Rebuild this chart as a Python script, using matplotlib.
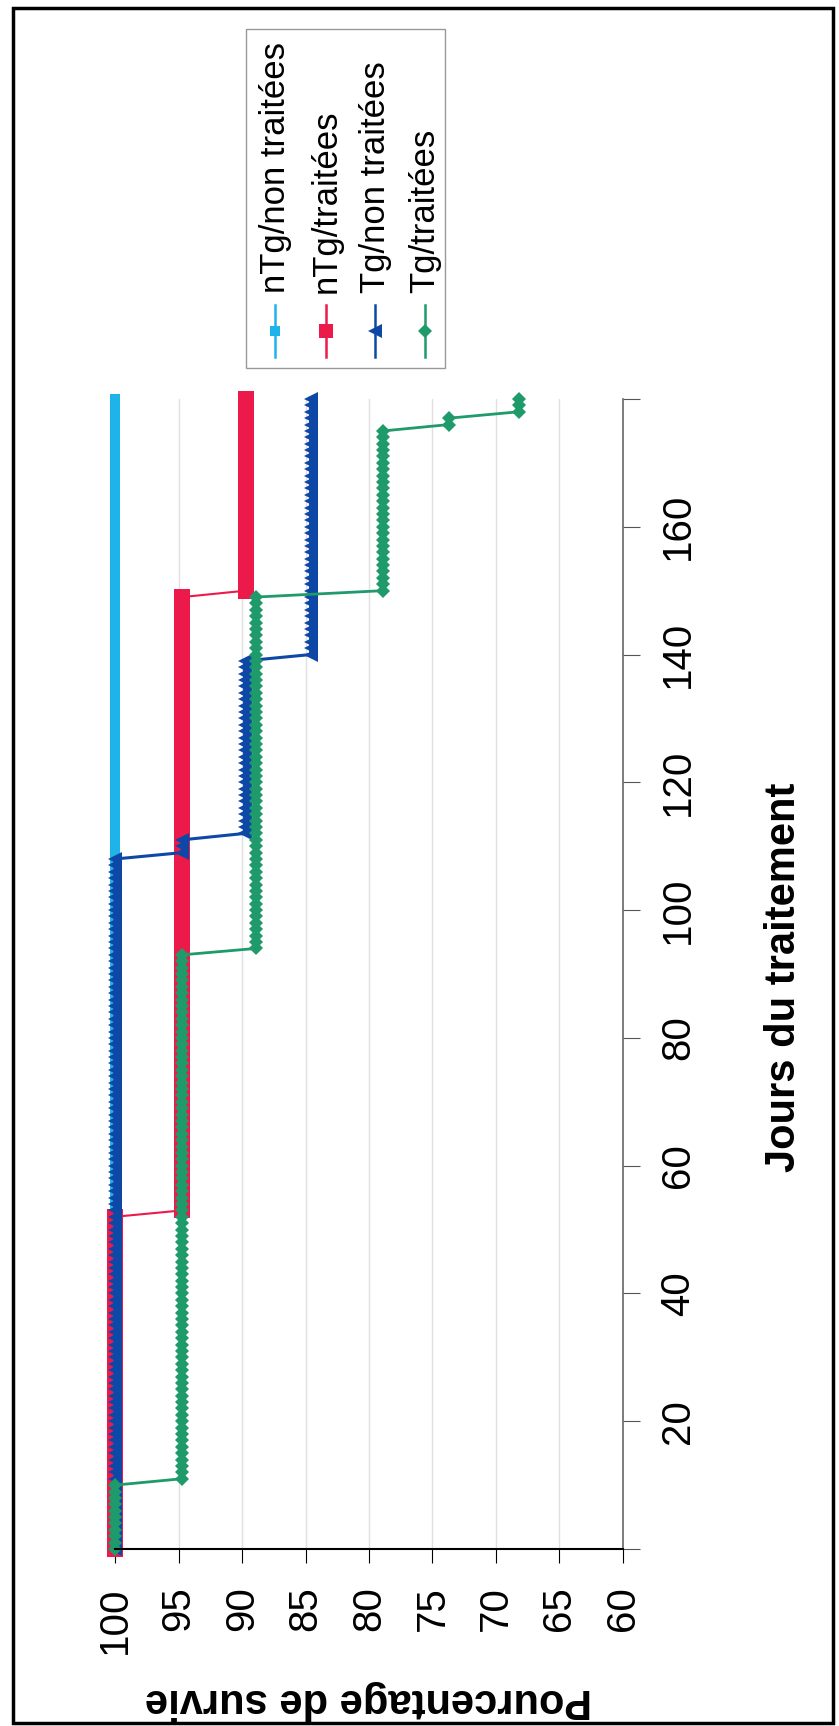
import numpy as np
import matplotlib
matplotlib.use("Agg")
import matplotlib.pyplot as plt
from matplotlib.lines import Line2D
from matplotlib.patches import Rectangle

plt.rcParams['font.family'] = ['Liberation Sans', 'DejaVu Sans']

# donnees (paliers de survie, jours 0..180)
jours = np.arange(0, 181)

ntg_non_niveaux = [100]
ntg_non_durees = [181]

ntg_trait_niveaux = [100, 94.7, 89.7]
ntg_trait_durees = [53, 97, 31]

tg_non_niveaux = [100, 94.7, 89.8, 84.6]
tg_non_durees = [109, 3, 28, 41]

tg_trait_niveaux = [100, 94.7, 88.9, 78.9, 73.7, 68.2]
tg_trait_durees = [11, 83, 56, 26, 2, 3]

noms = ["nTg/non traitées", "nTg/traitées", "Tg/non traitées", "Tg/traitées"]
couleurs = ['#1fb4e9', '#ec1a4b', '#0d48a6', '#1f9a6a']
marqueurs = ['s', 's', '<', 'D']
tailles = [7, 11, 9.5, 7.5]
epaisseurs = [2, 1.5, 2.2, 2]

x_ticks = list(range(60, 101, 5))
y_ticks = list(range(0, 181, 20))
y_labels = ['' if (t == 0 or t == 180) else str(t) for t in y_ticks]

series = [
    np.repeat(ntg_non_niveaux, ntg_non_durees),
    np.repeat(ntg_trait_niveaux, ntg_trait_durees),
    np.repeat(tg_non_niveaux, tg_non_durees),
    np.repeat(tg_trait_niveaux, tg_trait_durees),
]

W, H = 839, 1726
fig = plt.figure(figsize=(W / 100, H / 100), dpi=100)

def fx(x):
    return x / W

def fy(y):
    return 1 - y / H

# axes (graphique tourne de 90 degres)
ax = fig.add_axes([fx(115), fy(1549), fx(623) - fx(115), fy(399) - fy(1549)])

for s, c, m, ms, lw in zip(series, couleurs, marqueurs, tailles, epaisseurs):
    ax.plot(s, jours, color=c, marker=m, markersize=ms, linewidth=lw,
            markeredgewidth=0, clip_on=False)

ax.set_xlim(100, 60)
ax.set_ylim(0, 180)
ax.set_xticks(x_ticks)
ax.set_xticklabels([str(t) for t in x_ticks])
ax.tick_params(axis='x', labelrotation=90, labelsize=29, length=10, pad=17,
               direction='out', color='black')
ax.yaxis.tick_right()
ax.set_yticks(y_ticks)
ax.set_yticklabels(y_labels)
ax.tick_params(axis='y', labelrotation=90, labelsize=29, length=12, pad=14,
               direction='out', color='#555555')
for lab in ax.get_yticklabels():
    lab.set_va('center')

ax.grid(axis='x', color='#e0e0e0', linewidth=1)
ax.set_axisbelow(True)
ax.spines['top'].set_visible(False)
ax.spines['left'].set_visible(False)
ax.spines['bottom'].set_color('black')
ax.spines['bottom'].set_linewidth(1.5)
ax.spines['right'].set_color('#666666')
ax.spines['right'].set_linewidth(1.2)

fig.text(fx(784), fy(977), "Jours du traitement", rotation=90, fontsize=30,
         fontweight='bold', ha='center', va='center')
fig.text(fx(369), fy(1700), "Pourcentage de survie", rotation=180, fontsize=30,
         fontweight='bold', ha='center', va='center')

# legende faite a la main (tournee)
fig.add_artist(Rectangle((fx(246), fy(368)), fx(445) - fx(246), fy(29) - fy(368),
                         transform=fig.transFigure, fill=False,
                         edgecolor='#999999', linewidth=1))
leg_x = [275, 326, 375, 425]
for nom, c, m, ms, lx in zip(noms, couleurs, marqueurs, tailles, leg_x):
    fig.add_artist(Line2D([fx(lx), fx(lx)], [fy(357), fy(305)],
                          transform=fig.transFigure, color=c, linewidth=1.8))
    fig.add_artist(Line2D([fx(lx)], [fy(331)], transform=fig.transFigure,
                          color=c, marker=m, markersize=min(ms, 9.5),
                          markeredgewidth=0))
    fig.text(fx(lx), fy(293), nom, rotation=90, fontsize=25,
             ha='center', va='bottom')

# cadre exterieur
fig.add_artist(Rectangle((fx(13), fy(1723)), fx(833) - fx(13), fy(8) - fy(1723),
                         transform=fig.transFigure, fill=False,
                         edgecolor='black', linewidth=2.5))

fig.savefig("out.png", dpi=100)
